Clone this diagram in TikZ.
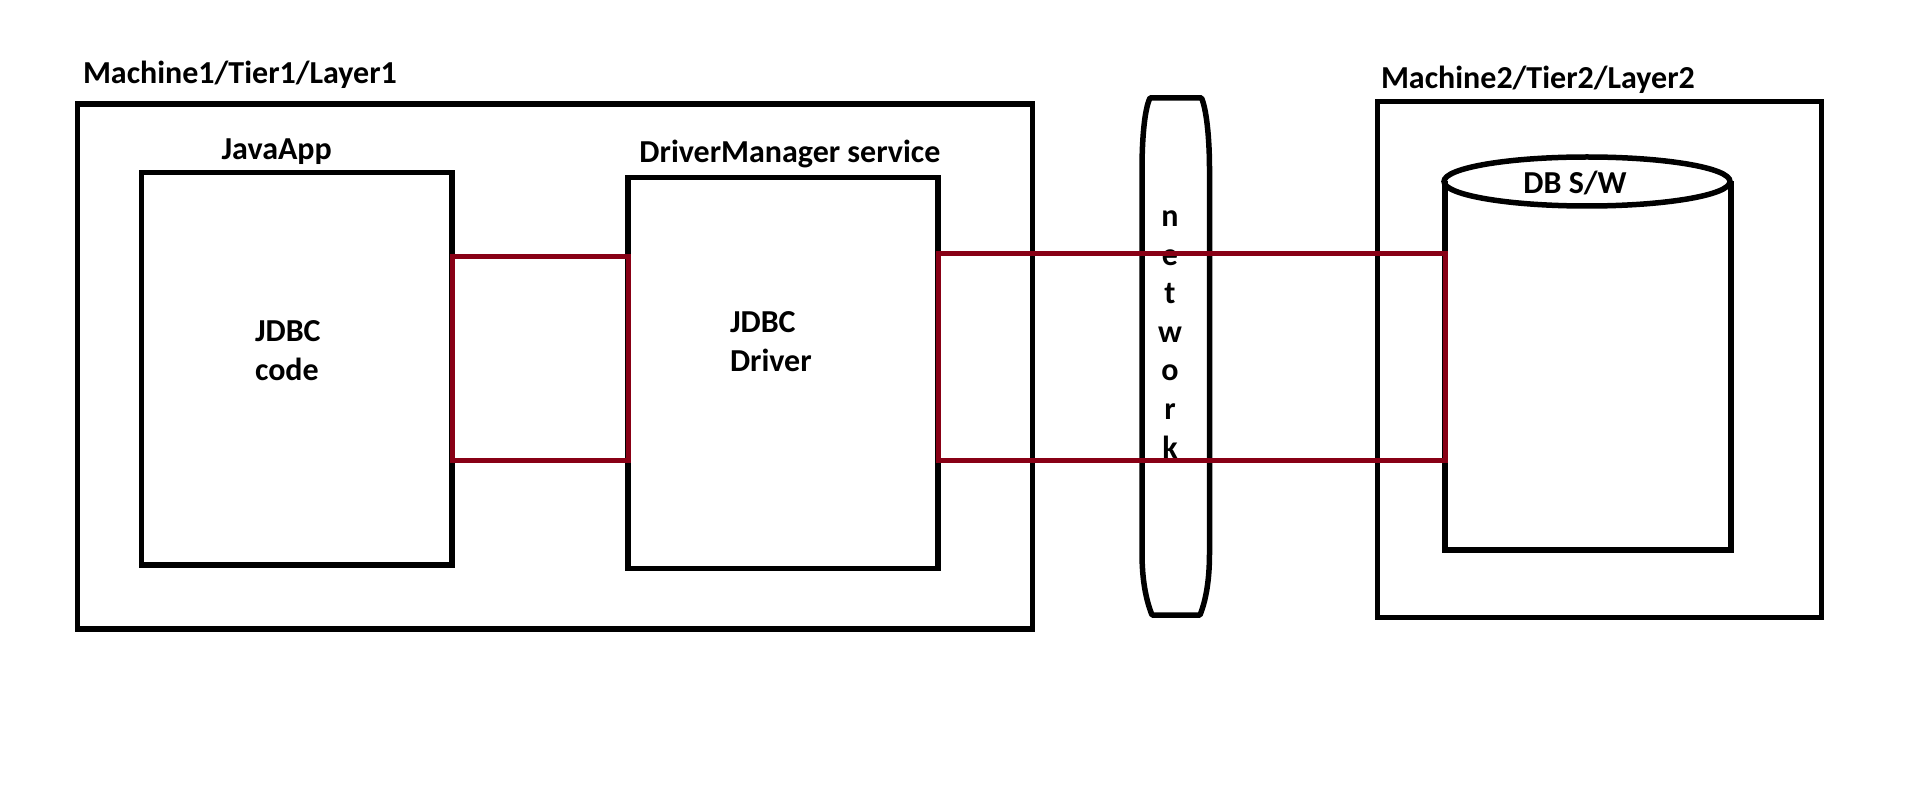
\documentclass[tikz,border=0pt]{standalone}
\usepackage{fontspec}
\setmainfont{Carlito}
\definecolor{linkred}{RGB}{136,0,21}
\begin{document}
\begin{tikzpicture}[x=1pt,y=-1pt,
  box/.style={draw=black,line width=5.5pt,inner sep=0pt,outer sep=0pt},
  lbl/.style={inner sep=0pt,outer sep=0pt,font=\fontsize{32}{38}\selectfont\bfseries},
  conn/.style={draw=linkred,line width=5pt,line join=miter}]
\useasboundingbox[fill=white] (0,0) rectangle (1914,791);
% machine 1
\node[box,minimum width=955pt,minimum height=525pt] (m1) at (555,366.6) {};
\node[box,minimum width=310.6pt,minimum height=392.5pt] (java) at (296.7,368.7) {};
\node[box,minimum width=310pt,minimum height=390.8pt] (dm) at (783,372.9) {};
% machine 2
\node[box,minimum width=444.2pt,minimum height=516pt] (m2) at (1599.6,359.7) {};
\node[inner sep=0pt,outer sep=0pt,minimum width=286pt,minimum height=369pt] (db) at (1588,365.5) {};
\draw[line width=5.5pt] (db.north west) -- (db.south west) -- (db.south east) -- (db.north east);
\draw[line width=5.5pt] (1587,181.5) ellipse [x radius=143, y radius=24.5];
% network
\draw[line width=5.5pt,line join=round] (1150,98) -- (1201.5,98)
  .. controls (1206,108) and (1209.5,135) .. (1209.5,170) -- (1209.5,553)
  .. controls (1209.5,580) and (1206,600) .. (1200,615) -- (1152,615)
  .. controls (1146,600) and (1142,580) .. (1142,553) -- (1142,170)
  .. controls (1142,135) and (1145,108) .. (1150,98) -- cycle;
% labels
\node[lbl,anchor=base west] (l1) at (83,84) {Machine1/Tier1/Layer1};
\node[lbl,anchor=base west] (l2) at (1381,88.3) {Machine2/Tier2/Layer2};
\node[lbl,anchor=base] (ljava) at (276.7,160) {JavaApp};
\node[lbl,anchor=base] (ldm) at (790,163) {DriverManager service};
\node[lbl,anchor=base west] (t1) at (255,342) {JDBC};
\node[lbl,anchor=base west] (t2) at (255,381) {code};
\node[lbl,anchor=base west] (t3) at (730,333) {JDBC};
\node[lbl,anchor=base west] (t4) at (730,371.7) {Driver};
\node[lbl,anchor=base] (tdb) at (1575,193.3) {DB S/W};
\foreach \c [count=\i from 0] in {n,e,t,w,o,r,k}
  \node[lbl,anchor=base] (net\i) at (1170,227+38.5*\i) {\c};
% connectors
\draw[conn] (java.east |- 0,256.5) -- (dm.west |- 0,256.5) -- (dm.west |- 0,460) -- (java.east |- 0,460) -- cycle;
\draw[conn] (dm.east |- 0,254) -- (db.west |- 0,254) -- (db.west |- 0,460) -- (dm.east |- 0,460) -- cycle;
\end{tikzpicture}
\end{document}
